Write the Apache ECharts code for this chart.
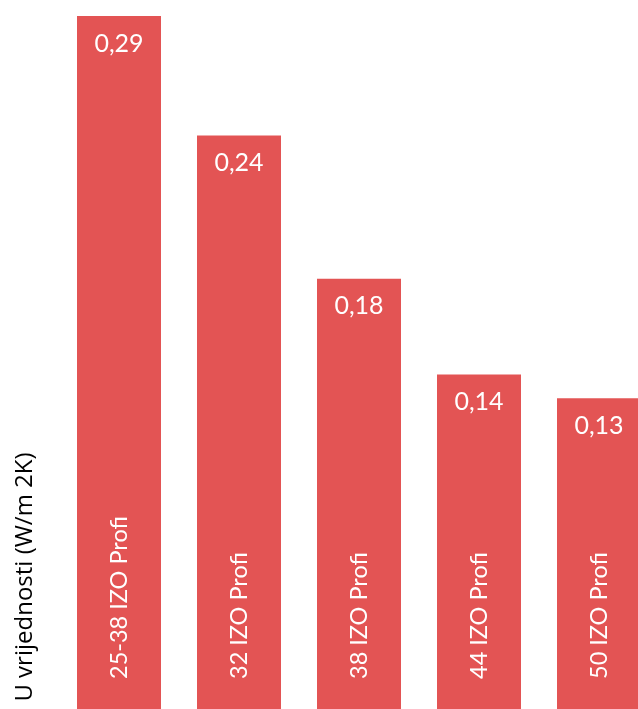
<!DOCTYPE html>
<html>
<head>
<meta charset="utf-8">
<script src="https://cdn.jsdelivr.net/npm/echarts@6/dist/echarts.min.js"></script>
<style>html,body{margin:0;padding:0;background:#fff;}#chart{width:638px;height:709px;}</style>
</head>
<body>
<div id="chart"></div>
<script>
const categories = ['25-38 IZO Profi', '32 IZO Profi', '38 IZO Profi', '44 IZO Profi', '50 IZO Profi'];
const values = [0.29, 0.24, 0.18, 0.14, 0.13];
const axisTitle = 'U vrijednosti (W/m 2K)';

const chart = echarts.init(document.getElementById('chart'));
chart.setOption({
  animation: false,
  grid: { left: 59, width: 600, top: 16, bottom: 0, containLabel: false, outerBoundsMode: 'none' },
  xAxis: {
    type: 'category',
    data: categories,
    axisLine: { show: false },
    axisTick: { show: false },
    axisLabel: {
      inside: true, rotate: 90, margin: 30,
      color: '#ffffff', fontFamily: 'Lato', fontSize: 23.5
    },
    z: 10
  },
  yAxis: {
    type: 'value', min: 0, max: 0.29,
    show: false
  },
  series: [{
    type: 'bar',
    data: values,
    barWidth: 84,
    itemStyle: { color: '#E35454' },
    label: {
      show: true, position: 'insideTop', distance: 15,
      color: '#ffffff', fontFamily: 'Lato', fontSize: 25,
      formatter: p => String(p.value).replace('.', ',')
    }
  }],
  graphic: [{
    type: 'text',
    x: 25, y: 577,
    rotation: Math.PI / 2,
    style: {
      text: axisTitle,
      fontFamily: 'Open Sans', fontSize: 24, fill: '#000000',
      align: 'center', verticalAlign: 'middle'
    }
  }]
});
</script>
</body>
</html>
